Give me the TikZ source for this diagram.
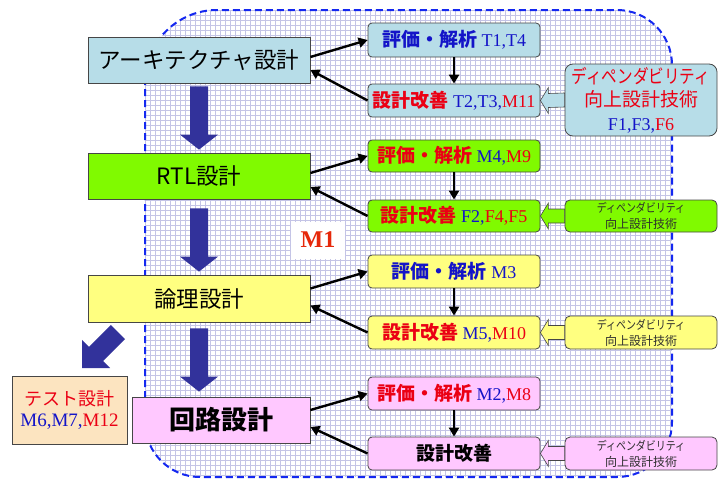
\documentclass[tikz,border=0pt]{standalone}
\usepackage{fontspec}
\usepackage{graphicx}
\setmainfont{Liberation Serif}
\newfontfamily\jp{Noto Sans CJK JP}
\usetikzlibrary{calc,arrows.meta}
\definecolor{cblue}{RGB}{183,221,232}
\definecolor{cgreen}{RGB}{128,250,0}
\definecolor{cyellow}{RGB}{255,255,128}
\definecolor{cpink}{RGB}{255,200,255}
\definecolor{cpeach}{RGB}{252,228,192}
\definecolor{tred}{RGB}{235,0,20}
\definecolor{tblue}{RGB}{20,20,200}
\definecolor{arrblue}{RGB}{50,50,155}
\definecolor{gridc}{RGB}{196,196,230}
\definecolor{regionc}{RGB}{20,40,240}
\definecolor{m1red}{RGB}{230,40,10}
\definecolor{edgec}{RGB}{70,70,70}
\definecolor{smalltxt}{RGB}{45,45,45}
\newcommand\rt[1]{\textcolor{tred}{#1}}
\newcommand\bt[1]{\textcolor{tblue}{#1}}
\newcommand\jb[1]{{\jp\bfseries\fontsize{19}{22}\selectfont #1}}
\tikzset{
  leftbox/.style={draw=edgec, line width=0.8pt, inner sep=0pt, minimum width=222pt, minimum height=46pt, font=\jp\fontsize{22.5}{26}\selectfont},
  rbox/.style={draw=edgec, line width=0.8pt, rounded corners=4pt, inner sep=0pt, minimum width=172pt, minimum height=33pt, font=\fontsize{18}{22}\selectfont},
  dbox/.style={draw=edgec, line width=0.8pt, rounded corners=5pt, inner sep=0pt, minimum width=152pt, minimum height=33pt, align=center, text=smalltxt, font=\jp\fontsize{12}{16}\selectfont},
  conn/.style={line width=2.4pt, -{Triangle[length=9pt,width=10pt]}},
  harrow/.style={draw=edgec, line width=0.6pt},
}
\newcommand\hollowarrow[3]{%
  \draw[harrow,fill=#3] (#1.east) -- ++(8,-13) -- ++(0,6) -- ($(#2.west)+(0,-7)$) -- ($(#2.west)+(0,7)$) -- ($(#1.east)+(8,7)$) -- ++(0,6) -- cycle;}
\newcommand\bigdownarrow[4]{%
  \fill[arrblue] let \p1=($(#1.south)+(0,#3)$), \p2=($(#2.north)+(0,-#4)$), \p3=(#1.center) in
   (\x3-9pt,\y1) -- (\x3+9pt,\y1) -- (\x3+9pt,\y2+15pt) -- (\x3+19pt,\y2+15pt) -- (\x3,\y2) -- (\x3-19pt,\y2+15pt) -- (\x3-9pt,\y2+15pt) -- cycle;}
\begin{document}
\begin{tikzpicture}[x=1pt,y=-1pt]
\useasboundingbox (0,0) rectangle (719,479);
% region
\path[fill=white] (145,250) [rounded corners=72pt] -- (145,10) [rounded corners=55pt] -- (672,10) -- (672,477) -- (145,477) -- cycle;
\begin{scope}
\clip (145,250) [rounded corners=72pt] -- (145,10) [rounded corners=55pt] -- (672,10) -- (672,477) -- (145,477) -- cycle;
\foreach \x in {145,150,...,675} \draw[gridc, line width=0.45pt] (\x,10) -- (\x,477);
\foreach \y in {10,15,...,480} \draw[gridc, line width=0.45pt] (145,\y) -- (672,\y);
\end{scope}
\draw[regionc, line width=2pt, dash pattern=on 7pt off 4pt] (145,250) [rounded corners=72pt] -- (145,10) [rounded corners=55pt] -- (672,10) -- (672,477) -- (145,477) -- cycle;
% M1
\node[fill=white, minimum width=54pt, minimum height=37pt, inner sep=0pt, text=m1red, font=\bfseries\fontsize{24}{28}\selectfont] (m1) at (318,240) {M1};
% left boxes
\node[leftbox, fill=cblue] (arch) at (199,60) {アーキテクチャ設計};
\node[leftbox, fill=cgreen] (rtl) at (199,176) {RTL設計};
\node[leftbox, fill=cyellow, minimum height=47pt] (logic) at (199,298.5) {論理設計};
\node[leftbox, fill=cpink, minimum width=178pt, font=\jp\bfseries\fontsize{26}{30}\selectfont] (circ) at (221,420) {回路設計};
\node[leftbox, fill=cpeach, minimum width=115pt, minimum height=68pt, align=center, font=\fontsize{19}{21}\selectfont] (test) at (69.5,410) {\rt{\jp\fontsize{18}{21}\selectfont テスト設計}\\\bt{M6,M7,}\rt{M12}};
% right column
\node[rbox, fill=cblue, minimum height=34pt] (e1) at (454,40) {\jb{\bt{評価・解析}} \bt{T1,T4}};
\node[rbox, fill=cblue] (i1) at (454,100.5) {\jb{\rt{設計改善}} \bt{T2,T3,}\rt{M11}};
\node[rbox, fill=cgreen, minimum height=32pt] (e2) at (454,156) {\jb{\rt{評価・解析}} \bt{M4,}\rt{M9}};
\node[rbox, fill=cgreen, minimum height=32pt] (i2) at (454,216) {\jb{\rt{設計改善}} \bt{F2,}\rt{F4,F5}};
\node[rbox, fill=cyellow] (e3) at (454,271.5) {\jb{\bt{評価・解析}} \bt{M3}};
\node[rbox, fill=cyellow] (i3) at (454,332.5) {\jb{\rt{設計改善}} \bt{M5,}\rt{M10}};
\node[rbox, fill=cpink] (e4) at (454,393.5) {\jb{\rt{評価・解析}} \bt{M2,}\rt{M8}};
\node[rbox, fill=cpink] (i4) at (454,453.5) {\jb{設計改善}};
% dependability
\node[dbox, fill=cblue, minimum height=72pt, rounded corners=8pt, text=tred, font=\jp\fontsize{19}{23.5}\selectfont] (d1) at (641,100) {\scalebox{0.82}[1]{ディペンダビリティ}\\向上設計技術\\{\rmfamily\fontsize{18}{22}\selectfont\bt{F1,F3,}\rt{F6}}};
\node[dbox, fill=cgreen, minimum height=32pt] (d2) at (641,216) {\scalebox{0.83}[1]{ディペンダビリティ}\\向上設計技術};
\node[dbox, fill=cyellow] (d3) at (641,332.5) {\scalebox{0.83}[1]{ディペンダビリティ}\\向上設計技術};
\node[dbox, fill=cpink] (d4) at (641,453.5) {\scalebox{0.83}[1]{ディペンダビリティ}\\向上設計技術};
% hollow arrows
\hollowarrow{i1}{d1}{cblue}
\hollowarrow{i2}{d2}{cgreen}
\hollowarrow{i3}{d3}{cyellow}
\hollowarrow{i4}{d4}{cpink}
% big blue arrows
\bigdownarrow{arch}{rtl}{3}{3}
\bigdownarrow{rtl}{logic}{9}{3}
\bigdownarrow{logic}{circ}{6}{5}
\fill[arrblue] (125.1,339.1) -- (103.2,361) -- (110.2,368) -- (82,368) -- (82,339.8) -- (89,346.8) -- (110.9,324.9) -- cycle;
% connectors
\draw[conn] ($(arch.east)+(0,-3)$) -- (e1.west);
\draw[conn] (i1.west) -- ($(arch.east)+(0,10)$);
\draw[conn] (e1.south) -- (i1.north);
\draw[conn] ($(rtl.east)+(0,-3)$) -- (e2.west);
\draw[conn] (i2.west) -- ($(rtl.east)+(0,11)$);
\draw[conn] (e2.south) -- (i2.north);
\draw[conn] ($(logic.east)+(0,-10)$) -- (e3.west);
\draw[conn] (i3.west) -- ($(logic.east)+(0,7)$);
\draw[conn] (e3.south) -- (i3.north);
\draw[conn] ($(circ.east)+(0,-10)$) -- (e4.west);
\draw[conn] (i4.west) -- ($(circ.east)+(0,7)$);
\draw[conn] (e4.south) -- (i4.north);
\end{tikzpicture}
\end{document}
